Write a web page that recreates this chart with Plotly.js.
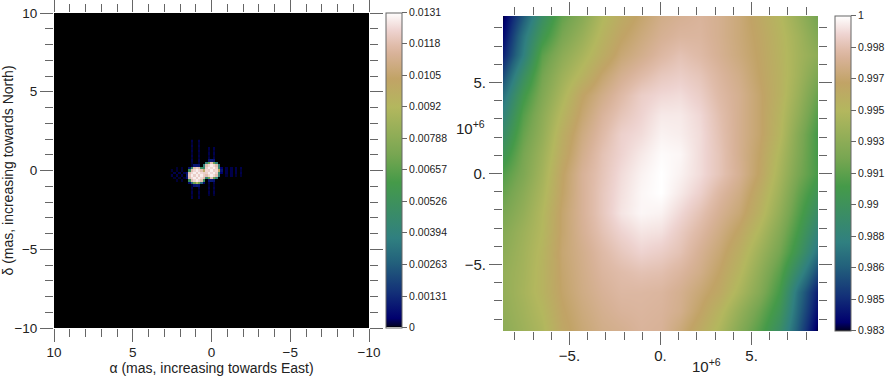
<!DOCTYPE html>
<html><head><meta charset="utf-8">
<script src="https://cdn.plot.ly/plotly-3.0.1.min.js"></script>
<style>html,body{margin:0;padding:0;background:#fff}#c{width:894px;height:377px}</style></head>
<body><div id="c"></div>
<script>
// ---- left panel: image, central patch read cell by cell (units of 1e-4); everything else is 0
const imgX0 = 2.5, imgY0 = 1.875, imgStep = 0.15625;
const imgRows = [
[0,0,0,0,0,0,0,0,2,0,0,2,0,0,0,0,0,0,0,0,0,0,0,0,0,0,0,0,0,0],
[0,0,0,0,0,0,0,0,1,0,0,1,0,0,0,0,0,0,0,0,0,0,0,0,0,0,0,0,0,0],
[0,0,0,0,0,0,0,0,2,0,0,2,0,0,0,0,0,0,0,0,0,0,0,0,0,0,0,0,0,0],
[0,0,0,0,0,0,0,0,1,0,0,1,0,0,0,2,0,2,0,0,0,0,0,0,0,0,0,0,0,0],
[0,0,0,0,0,0,0,0,2,0,0,2,0,0,0,1,0,1,0,0,0,0,0,0,0,0,0,0,0,0],
[0,0,0,0,0,0,0,0,1,0,0,1,0,0,0,2,0,2,0,0,0,0,0,0,0,0,0,0,0,0],
[0,0,0,0,0,0,0,0,2,0,0,2,0,0,0,1,0,1,0,0,0,0,0,0,0,0,0,0,0,0],
[0,0,0,0,0,0,0,0,1,0,0,1,0,0,0,2,0,2,0,0,0,0,0,0,0,0,0,0,0,0],
[0,0,0,0,0,0,0,0,2,0,0,2,0,0,0,8,10,8,0,0,0,0,0,0,0,0,0,0,0,0],
[0,0,0,0,0,0,0,0,1,0,0,1,0,0,40,70,118,70,40,0,0,0,0,0,0,0,0,0,0,0],
[0,0,0,0,0,0,0,0,1,8,8,8,0,40,118,124,128,124,118,40,0,0,0,0,0,0,0,0,0,0],
[0,0,1,0,1,0,0,8,50,118,122,118,50,45,122,128,124,128,122,45,4,0,2,0,2,0,2,0,2,0],
[1,0,1,0,1,0,0,50,118,124,128,124,118,100,124,122,128,122,124,100,8,0,2,0,2,0,2,0,1,0],
[0,2,0,2,0,2,8,118,124,128,122,128,124,122,122,128,124,128,122,45,4,0,2,0,2,0,2,0,2,0],
[2,0,2,0,2,0,10,120,128,122,128,122,128,122,118,124,128,124,118,40,0,0,1,0,2,0,1,0,1,0],
[0,1,0,1,0,1,8,118,124,128,122,128,124,118,40,70,118,70,40,0,0,0,0,0,0,0,0,0,0,0],
[0,0,1,0,1,0,0,50,118,124,128,124,118,50,0,8,10,8,0,0,0,0,0,0,0,0,0,0,0,0],
[0,0,0,0,0,0,0,6,30,70,90,70,30,6,0,2,0,2,0,0,0,0,0,0,0,0,0,0,0,0],
[0,0,0,0,0,0,0,0,1,8,10,8,0,0,0,1,0,1,0,0,0,0,0,0,0,0,0,0,0,0],
[0,0,0,0,0,0,0,0,2,0,0,2,0,0,0,2,0,2,0,0,0,0,0,0,0,0,0,0,0,0],
[0,0,0,0,0,0,0,0,1,0,0,1,0,0,0,1,0,1,0,0,0,0,0,0,0,0,0,0,0,0],
[0,0,0,0,0,0,0,0,2,0,0,2,0,0,0,2,0,2,0,0,0,0,0,0,0,0,0,0,0,0],
[0,0,0,0,0,0,0,0,1,0,0,1,0,0,0,1,0,1,0,0,0,0,0,0,0,0,0,0,0,0],
[0,0,0,0,0,0,0,0,2,0,0,2,0,0,0,0,0,0,0,0,0,0,0,0,0,0,0,0,0,0],
[0,0,0,0,0,0,0,0,0,0,0,0,0,0,0,0,0,0,0,0,0,0,0,0,0,0,0,0,0,0],
[0,0,0,0,0,0,0,0,0,0,0,0,0,0,0,0,0,0,0,0,0,0,0,0,0,0,0,0,0,0]
];
const imgTickVals = [0,0.00131,0.00263,0.00394,0.00526,0.00657,0.00788,0.0092,0.0105,0.0118,0.0131];
const imgTickText = ['0','0.00131','0.00263','0.00394','0.00526','0.00657','0.00788','0.0092','0.0105','0.0118','0.0131'];

// ---- right panel: visibility surface (axes in units of 1e+6)
const visX = [-8.65,-7.57,-6.49,-5.41,-4.33,-3.24,-2.16,-1.08,0,1.08,2.16,3.24,4.33,5.41,6.49,7.57,8.65];
const visY = [8.65,7.57,6.49,5.41,4.33,3.24,2.16,1.08,0,-1.08,-2.16,-3.24,-4.33,-5.41,-6.49,-7.57,-8.65];
const visZ = [
[.9832,.9862,.9893,.9917,.9930,.9947,.9958,.9966,.9973,.9976,.9978,.9975,.9969,.9960,.9950,.9937,.9922],
[.9837,.9873,.9903,.9924,.9937,.9952,.9963,.9970,.9976,.9979,.9979,.9975,.9969,.9962,.9952,.9941,.9927],
[.9844,.9878,.9915,.9932,.9944,.9957,.9968,.9974,.9980,.9984,.9981,.9976,.9970,.9963,.9953,.9942,.9932],
[.9857,.9893,.9922,.9939,.9952,.9966,.9975,.9981,.9986,.9988,.9985,.9979,.9973,.9964,.9954,.9941,.9925],
[.9871,.9905,.9927,.9945,.9963,.9973,.9981,.9988,.9991,.9992,.9988,.9981,.9975,.9966,.9954,.9938,.9918],
[.9881,.9913,.9932,.9951,.9967,.9978,.9985,.9990,.9995,.9995,.9991,.9983,.9975,.9966,.9952,.9934,.9912],
[.9891,.9918,.9935,.9956,.9971,.9981,.9989,.9992,.9997,.9996,.9992,.9984,.9975,.9966,.9951,.9929,.9907],
[.9901,.9923,.9939,.9959,.9974,.9984,.9990,.9995,.9999,.9998,.9992,.9985,.9975,.9964,.9947,.9927,.9907],
[.9912,.9926,.9942,.9963,.9977,.9985,.9992,.9997,1.000,.9997,.9992,.9985,.9976,.9963,.9944,.9924,.9908],
[.9918,.9931,.9945,.9964,.9977,.9986,.9993,.9998,1.000,.9995,.9989,.9980,.9972,.9958,.9940,.9918,.9900],
[.9924,.9935,.9948,.9966,.9977,.9986,.9994,.9998,.9997,.9991,.9984,.9976,.9968,.9954,.9935,.9913,.9891],
[.9929,.9939,.9949,.9966,.9976,.9984,.9990,.9994,.9993,.9987,.9980,.9972,.9962,.9947,.9929,.9907,.9881],
[.9932,.9941,.9951,.9967,.9974,.9981,.9986,.9990,.9988,.9984,.9976,.9968,.9956,.9940,.9923,.9900,.9871],
[.9935,.9942,.9952,.9966,.9973,.9979,.9982,.9984,.9983,.9979,.9973,.9964,.9951,.9934,.9915,.9886,.9856],
[.9935,.9943,.9952,.9965,.9972,.9977,.9980,.9980,.9979,.9975,.9968,.9960,.9945,.9929,.9908,.9871,.9842],
[.9934,.9941,.9949,.9963,.9970,.9975,.9978,.9979,.9978,.9974,.9964,.9952,.9936,.9920,.9901,.9867,.9837],
[.9932,.9939,.9946,.9961,.9968,.9973,.9975,.9978,.9977,.9969,.9958,.9946,.9929,.9913,.9893,.9862,.9830]
];
const visTickVals = [0.983,0.9847,0.9864,0.9881,0.9898,0.9915,0.9932,0.9949,0.9966,0.9983,1];
const visTickText = ['0.983','0.985','0.986','0.988','0.99','0.991','0.993','0.995','0.997','0.998','1'];

// ---- shared colour scale
const earth = [
[0,'rgb(0,0,0)'],[0.0039,'rgb(0,0,43)'],[0.0275,'rgb(0,0,110)'],[0.1098,'rgb(19,48,120)'],
[0.2078,'rgb(35,98,124)'],[0.2824,'rgb(48,128,128)'],[0.4588,'rgb(69,154,73)'],[0.5216,'rgb(105,163,78)'],
[0.549,'rgb(120,166,82)'],[0.698,'rgb(179,183,94)'],[0.7882,'rgb(193,163,102)'],[0.8667,'rgb(216,178,152)'],
[0.8941,'rgb(224,188,170)'],[0.9412,'rgb(238,211,208)'],[1,'rgb(255,255,255)']];

const W = 894, H = 377, FONT = 'Liberation Sans, Arial, sans-serif', TICK = '#666', TXT = '#222';
const px = (a,b)=>[a/W,b/W], py = (top,bot)=>[1-bot/H,1-top/H];

function axis(dom, range, extra){
  return Object.assign({domain:dom, range:range, autorange:false, showgrid:false, zeroline:false,
    showline:false, mirror:'ticks', ticks:'outside', ticklen:13, tickwidth:1, tickcolor:TICK,
    tickmode:'linear', tick0:0, dtick:5,
    minor:{ticks:'outside', dtick:1, tick0:0, ticklen:8, tickwidth:1, tickcolor:TICK, showgrid:false},
    tickfont:{family:FONT,size:13.5,color:TXT}}, extra||{});
}
function fine(dom, range, anchor, over){
  return {domain:dom, range:range, autorange:false, overlaying:over, anchor:anchor, showgrid:false, zeroline:false,
    showline:false, mirror:'ticks', ticks:'outside', ticklen:5, tickwidth:1, tickcolor:TICK,
    tickmode:'linear', tick0:0, dtick:0.5, showticklabels:false};
}
function cbar(x, top, vals, text){
  return {x:x/W, xanchor:'left', xpad:0, ypad:0, y:1-top/H, yanchor:'top', thickness:16, thicknessmode:'pixels',
    len:315, lenmode:'pixels', tickmode:'array', tickvals:vals, ticktext:text, ticks:'outside', ticklen:5,
    tickwidth:1, tickcolor:TICK, outlinecolor:TICK, outlinewidth:1, borderwidth:0,
    tickfont:{family:FONT,size:10.5,color:TXT}};
}

const L = {x:px(54,369), y:py(13,328)}, R = {x:px(503,818), y:py(16,331)};
const traces = [
 {type:'heatmap', xaxis:'x', yaxis:'y', x0:imgX0, dx:-imgStep, y0:imgY0, dy:-imgStep,
  z:imgRows.map(r=>r.map(v=>v/1e4)), zmin:0, zmax:0.0131, colorscale:earth, hoverinfo:'skip',
  colorbar:cbar(386,12.5,imgTickVals,imgTickText)},
 {type:'heatmap', xaxis:'x2', yaxis:'y2', x:visX, y:visY, z:visZ, zsmooth:'best', zmin:0.983, zmax:1,
  colorscale:earth, hoverinfo:'skip', colorbar:cbar(835,15.5,visTickVals,visTickText)}
];
const titleFont = {family:FONT,size:14,color:TXT};
const annFont = {family:FONT,size:15,color:TXT};
const layout = {
  width:W, height:H, margin:{l:0,r:0,t:0,b:0}, paper_bgcolor:'#fff', plot_bgcolor:'#000', showlegend:false,
  font:{family:FONT,color:TXT},
  xaxis:axis(L.x,[10,-10],{anchor:'y',ticklabelstandoff:-1,title:{text:'α (mas, increasing towards East)',font:titleFont,standoff:2}}),
  yaxis:axis(L.y,[-10,10],{anchor:'x',title:{text:'δ (mas, increasing towards North)',font:titleFont,standoff:2}}),
  xaxis2:axis(R.x,[-8.65,8.65],{anchor:'y2',ticksuffix:'.',ticklabelstandoff:-2,tickfont:{family:FONT,size:15,color:TXT}}),
  yaxis2:axis(R.y,[-8.65,8.65],{anchor:'x2',ticksuffix:'.',tickfont:{family:FONT,size:15,color:TXT}}),
  xaxis3:fine(L.x,[10,-10],'y3','x'), yaxis3:fine(L.y,[-10,10],'x3','y'),
  xaxis4:fine(R.x,[-8.65,8.65],'y4','x2'), yaxis4:fine(R.y,[-8.65,8.65],'x4','y2'),
  annotations:[
   {xref:'paper',yref:'paper',x:470/W,y:1-127/H,xanchor:'center',yanchor:'middle',text:'10<sup>+6</sup>',showarrow:false,font:annFont},
   {xref:'paper',yref:'paper',x:706/W,y:1-365/H,xanchor:'center',yanchor:'middle',text:'10<sup>+6</sup>',showarrow:false,font:annFont}
  ]
};
Plotly.newPlot('c',traces,layout,{displayModeBar:false,staticPlot:true});
</script></body></html>
